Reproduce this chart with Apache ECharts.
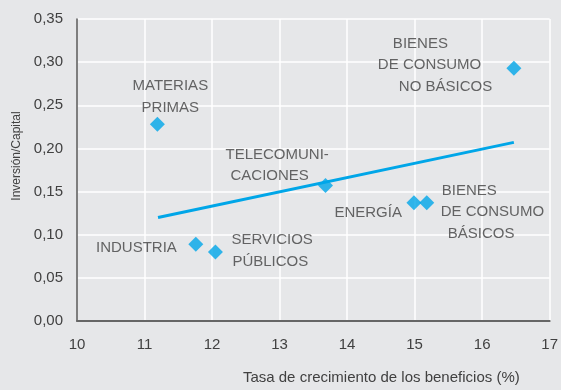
<!DOCTYPE html>
<html>
<head>
<meta charset="utf-8">
<script src="https://cdn.jsdelivr.net/npm/echarts@6/dist/echarts.min.js"></script>
<style>
  html, body { margin: 0; padding: 0; background: #e6e7e9; }
  #chart { width: 561px; height: 390px; }
</style>
</head>
<body>
<div id="chart"></div>
<script>
// Sectors: earnings growth (%) vs. investment/capital ratio
const sectors = [
  'MATERIAS PRIMAS',
  'BIENES DE CONSUMO NO BÁSICOS',
  'TELECOMUNICACIONES',
  'INDUSTRIA',
  'SERVICIOS PÚBLICOS',
  'ENERGÍA',
  'BIENES DE CONSUMO BÁSICOS'
];
const sectorLabelLines = [
  ['MATERIAS', 'PRIMAS'],
  ['BIENES', 'DE CONSUMO', 'NO BÁSICOS'],
  ['TELECOMUNI-', 'CACIONES'],
  ['INDUSTRIA'],
  ['SERVICIOS', 'PÚBLICOS'],
  ['ENERGÍA'],
  ['BIENES', 'DE CONSUMO', 'BÁSICOS']
];
const profitGrowth = [11.19, 16.47, 13.68, 11.76, 12.05, 14.99, 15.18];
const investmentToCapital = [0.228, 0.293, 0.157, 0.089, 0.080, 0.137, 0.137];

// Fitted trend line endpoints
const trendGrowth = [11.2, 16.47];
const trendRatio = [0.120, 0.207];

// Axis ticks
const xTicks = [10, 11, 12, 13, 14, 15, 16, 17];
const yTicks = [0, 0.05, 0.10, 0.15, 0.20, 0.25, 0.30, 0.35];

const xTitle = 'Tasa de crecimiento de los beneficios (%)';
const yTitle = 'Inversión/Capital';

// Where each sector's label sits relative to its marker
const labelPlacement = [
  { align: 'center', offset: [13, -27.5], indent: [0, 0] },
  { align: 'left',   offset: [-136, -3],  indent: [15, 0, 21] },
  { align: 'left',   offset: [-100, -20], indent: [0, 5] },
  { align: 'right',  offset: [-19, 4],    indent: [0] },
  { align: 'left',   offset: [16, -1],    indent: [0, 1] },
  { align: 'right',  offset: [-12, 10],   indent: [0] },
  { align: 'left',   offset: [14, 9.5],   indent: [1, 0, 7] }
];

const FONT = '"Liberation Sans", Arial, sans-serif';
const TEXT = '#414141';
const BLUE = '#00a6e8';

const scatterData = sectors.map((name, i) => {
  const place = labelPlacement[i];
  const rich = {};
  const lines = sectorLabelLines[i].map((t, j) => {
    rich['r' + j] = {
      padding: [0, 0, 0, place.indent[j] || 0],
      align: place.align === 'center' ? 'center' : 'left',
      fontSize: 15,
      lineHeight: 21.5,
      color: TEXT,
      fontFamily: FONT
    };
    return '{r' + j + '|' + t + '}';
  });
  return {
    name: name,
    value: [profitGrowth[i], investmentToCapital[i]],
    label: {
      show: true,
      position: 'inside',
      align: place.align,
      verticalAlign: 'middle',
      offset: place.offset,
      formatter: lines.join('\n'),
      rich: rich
    }
  };
});

const chart = echarts.init(document.getElementById('chart'), null, { renderer: 'canvas' });

chart.setOption({
  backgroundColor: '#e6e7e9',
  animation: false,
  grid: { left: 77, right: 7, top: 19, bottom: 64, containLabel: false },
  xAxis: {
    type: 'value',
    min: xTicks[0],
    max: xTicks[xTicks.length - 1],
    interval: 1,
    name: xTitle,
    nameLocation: 'middle',
    nameGap: 49,
    nameTextStyle: { fontSize: 15, color: TEXT, fontFamily: FONT, padding: [0, 0, 0, 136] },
    axisLine: { show: true, lineStyle: { color: '#666', width: 2 } },
    axisTick: { show: false },
    axisLabel: { fontSize: 15, color: TEXT, fontFamily: FONT, margin: 16 },
    splitLine: { show: true, lineStyle: { color: '#ffffff', width: 1.5 } }
  },
  yAxis: {
    type: 'value',
    min: yTicks[0],
    max: yTicks[yTicks.length - 1],
    interval: 0.05,
    name: yTitle,
    nameLocation: 'middle',
    nameGap: 53,
    nameTextStyle: { fontSize: 12, color: TEXT, fontFamily: FONT, padding: [0, 0, 0, 28] },
    axisLine: { show: true, lineStyle: { color: '#555', width: 1.5 } },
    axisTick: { show: false },
    axisLabel: {
      fontSize: 15, color: TEXT, fontFamily: FONT, margin: 14,
      formatter: v => v.toFixed(2).replace('.', ',')
    },
    splitLine: { show: true, lineStyle: { color: '#ffffff', width: 1.5 } }
  },
  series: [
    {
      name: 'Tendencia',
      type: 'line',
      data: trendGrowth.map((x, i) => [x, trendRatio[i]]),
      symbol: 'none',
      lineStyle: { color: BLUE, width: 3 },
      z: 2
    },
    {
      name: 'Sectores',
      type: 'scatter',
      data: scatterData,
      symbol: 'diamond',
      symbolSize: 15,
      itemStyle: { color: BLUE },
      z: 3
    }
  ]
});
</script>
</body>
</html>
